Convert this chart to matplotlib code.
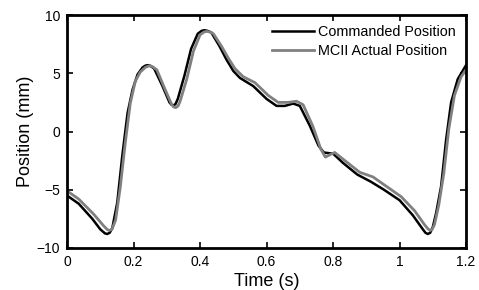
import matplotlib
matplotlib.use("Agg")
import matplotlib.pyplot as plt

# Commanded trajectory (s, mm)
cmd_t = [0.000, 0.035, 0.076, 0.100, 0.114, 0.121, 0.128, 0.136, 0.151, 0.166, 0.182,
         0.197, 0.212, 0.227, 0.235, 0.242, 0.250, 0.262, 0.287, 0.308, 0.314, 0.320,
         0.326, 0.333, 0.353, 0.373, 0.393, 0.405, 0.413, 0.422, 0.434, 0.459, 0.479,
         0.500, 0.520, 0.560, 0.600, 0.630, 0.655, 0.680, 0.700, 0.730, 0.756, 0.772,
         0.785, 0.800, 0.830, 0.873, 0.913, 0.953, 1.000, 1.040, 1.070, 1.078, 1.085,
         1.092, 1.100, 1.110, 1.125, 1.140, 1.155, 1.175, 1.200]
cmd_pos = [-5.5, -6.2, -7.5, -8.4, -8.75, -8.8, -8.7, -8.3, -6.1, -2.1, 1.6,
           3.6, 4.9, 5.5, 5.65, 5.7, 5.65, 5.4, 3.9, 2.5, 2.3, 2.25,
           2.35, 2.8, 4.8, 7.1, 8.4, 8.65, 8.7, 8.65, 8.5, 7.3, 6.2,
           5.2, 4.6, 3.9, 2.8, 2.2, 2.2, 2.4, 2.2, 0.5, -1.2, -1.8,
           -1.85, -1.9, -2.7, -3.7, -4.3, -5.0, -5.9, -7.2, -8.4, -8.7, -8.8,
           -8.7, -8.2, -7.0, -4.7, -0.7, 2.5, 4.5, 5.7]

# Measured MCII position
act_t = [0.000, 0.035, 0.080, 0.110, 0.120, 0.127, 0.135, 0.146, 0.160, 0.175, 0.190,
         0.205, 0.220, 0.235, 0.243, 0.250, 0.258, 0.270, 0.295, 0.315, 0.321, 0.327,
         0.334, 0.340, 0.360, 0.380, 0.400, 0.412, 0.420, 0.429, 0.440, 0.465, 0.485,
         0.505, 0.530, 0.565, 0.605, 0.635, 0.665, 0.690, 0.710, 0.740, 0.763, 0.777,
         0.790, 0.805, 0.840, 0.880, 0.920, 0.960, 1.005, 1.045, 1.075, 1.085, 1.092,
         1.098, 1.105, 1.118, 1.133, 1.148, 1.165, 1.185, 1.200]
act_pos = [-5.1, -5.8, -7.1, -8.1, -8.4, -8.5, -8.4, -7.6, -4.8, -1.0, 2.4,
           4.3, 5.1, 5.5, 5.6, 5.65, 5.55, 5.3, 3.6, 2.3, 2.1, 2.05,
           2.2, 2.6, 4.5, 6.9, 8.3, 8.55, 8.6, 8.55, 8.4, 7.3, 6.3,
           5.4, 4.7, 4.2, 3.1, 2.5, 2.5, 2.6, 2.3, 0.4, -1.5, -2.2,
           -2.0, -1.8, -2.6, -3.5, -3.9, -4.7, -5.6, -6.8, -8.0, -8.35, -8.5,
           -8.4, -8.0, -6.3, -3.6, 0.2, 3.1, 4.7, 5.3]

plt.rcParams["font.family"] = ["Liberation Sans", "DejaVu Sans"]

fig = plt.figure(figsize=(4.79, 2.90), dpi=100)
ax = fig.add_axes([0.140, 0.145, 0.833, 0.803])

ax.plot(cmd_t, cmd_pos, color="black", linewidth=1.8, solid_joinstyle="round",
        label="Commanded Position")
ax.plot(act_t, act_pos, color="#808080", linewidth=2.0, solid_joinstyle="round",
        label="MCII Actual Position")

ax.set_xlim(0, 1.2)
ax.set_ylim(-10, 10)
ax.set_xticks([0, 0.2, 0.4, 0.6, 0.8, 1.0, 1.2])
ax.set_xticklabels(["0", "0.2", "0.4", "0.6", "0.8", "1", "1.2"])
ax.set_yticks([-10, -5, 0, 5, 10])
ax.set_yticklabels(["\u221210", "\u22125", "0", "5", "10"])
ax.tick_params(direction="in", top=True, right=True, length=4, width=1.2,
               labelsize=10, pad=5)
for spine in ax.spines.values():
    spine.set_linewidth(2)

ax.set_xlabel("Time (s)", fontsize=13, labelpad=3)
ax.set_ylabel("Position (mm)", fontsize=13, labelpad=2)

ax.legend(loc="upper right", frameon=False, fontsize=10.4, handlelength=2.9,
          handletextpad=0.3, labelspacing=0.35, borderaxespad=0.3)

fig.savefig("out.png", dpi=100)
